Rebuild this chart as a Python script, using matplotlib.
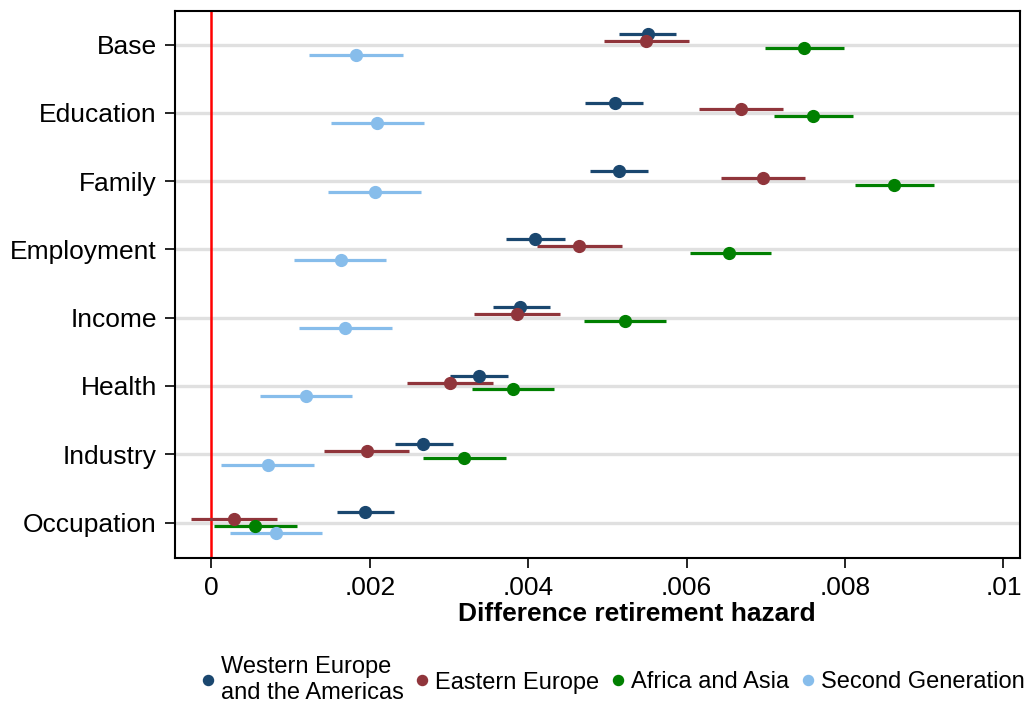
import matplotlib
matplotlib.use("Agg")
import matplotlib.pyplot as plt
import numpy as np

plt.rcParams['font.family'] = ['Liberation Sans', 'DejaVu Sans']

categories = ["Base", "Education", "Family", "Employment", "Income", "Health", "Industry", "Occupation"]
series_names = ["Western Europe\nand the Americas", "Eastern Europe", "Africa and Asia", "Second Generation"]
colors = ["#1a476f", "#90353b", "#008000", "#87bdeb"]

# point estimates and CI bounds (x 0.001)
west_est = [5.51, 5.09, 5.14, 4.09, 3.90, 3.38, 2.67, 1.94]
west_lo  = [5.15, 4.72, 4.78, 3.72, 3.55, 3.01, 2.32, 1.58]
west_hi  = [5.87, 5.45, 5.51, 4.46, 4.27, 3.75, 3.05, 2.31]

east_est = [5.49, 6.69, 6.97, 4.64, 3.86, 3.01, 1.96, 0.29]
east_lo  = [4.96, 6.16, 6.43, 4.11, 3.32, 2.47, 1.42, -0.26]
east_hi  = [6.03, 7.22, 7.50, 5.19, 4.40, 3.55, 2.50, 0.83]

afas_est = [7.48, 7.60, 8.62, 6.54, 5.22, 3.81, 3.19, 0.55]
afas_lo  = [6.99, 7.10, 8.12, 6.04, 4.71, 3.29, 2.67, 0.03]
afas_hi  = [7.99, 8.10, 9.12, 7.06, 5.74, 4.33, 3.72, 1.08]

sec_est = [1.82, 2.09, 2.06, 1.63, 1.69, 1.19, 0.71, 0.81]
sec_lo  = [1.23, 1.51, 1.47, 1.04, 1.11, 0.61, 0.12, 0.23]
sec_hi  = [2.42, 2.69, 2.65, 2.21, 2.28, 1.78, 1.30, 1.39]

xticks = [0, 0.002, 0.004, 0.006, 0.008, 0.01]
xticklabels = ["0", ".002", ".004", ".006", ".008", ".01"]

data = [(west_est, west_lo, west_hi), (east_est, east_lo, east_hi),
        (afas_est, afas_lo, afas_hi), (sec_est, sec_lo, sec_hi)]
offsets = [-0.153, -0.051, 0.051, 0.153]

fig = plt.figure(figsize=(10.32, 7.05), dpi=100)
ax = fig.add_axes([0.1696, 0.2085, 0.8188, 0.7765])

ypos = np.arange(len(categories))
for yv in ypos:
    ax.axhline(yv, color="#e0e0e0", lw=2.4, zorder=0)
ax.axvline(0, color="red", lw=1.8, zorder=1)

handles = []
for (est, lo, hi), off, c, name in zip(data, offsets, colors, series_names):
    est = np.array(est) / 1000
    lo = np.array(lo) / 1000
    hi = np.array(hi) / 1000
    y = ypos + off
    ax.hlines(y, lo, hi, color=c, lw=2.3, zorder=2)
    h, = ax.plot(est, y, 'o', color=c, ms=8.5, zorder=3, label=name, linestyle='none')
    handles.append(h)

ax.set_ylim(7.52, -0.5)
ax.set_xlim(-0.00046, 0.01021)
ax.set_yticks(ypos)
ax.set_yticklabels(categories, fontsize=19)
ax.set_xticks(xticks)
ax.set_xticklabels(xticklabels, fontsize=19)
ax.tick_params(axis='both', direction='out', length=7, width=1.2, color='black', pad=6)
for s in ax.spines.values():
    s.set_linewidth(1.5)
    s.set_color('black')

fig.text(637 / 1032, 1 - 614 / 705, "Difference retirement hazard", fontsize=19,
         fontweight='bold', ha='center', va='center')

fig.legend(handles=handles, loc='center', bbox_to_anchor=(611 / 1032, 1 - 680 / 705), ncol=4,
           frameon=False, fontsize=17, handletextpad=0.1, columnspacing=0.35,
           markerscale=0.85, handlelength=0.9, borderaxespad=0.0, borderpad=0.0,
           labelspacing=0.1)

fig.savefig("out.png", dpi=100)
